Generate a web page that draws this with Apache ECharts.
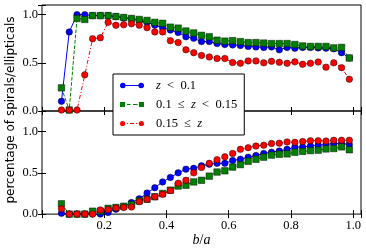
<!DOCTYPE html>
<html><head><meta charset="utf-8">
<script src="https://cdn.jsdelivr.net/npm/echarts@6/dist/echarts.min.js"></script>
<style>html,body{margin:0;padding:0;background:#fff}#c{width:366px;height:248px}</style>
</head><body><div id="c"></div>
<script>
const binCenters = [0.0625, 0.0875, 0.1125, 0.1375, 0.1625, 0.1875, 0.2125, 0.2375, 0.2625, 0.2875,
  0.3125, 0.3375, 0.3625, 0.3875, 0.4125, 0.4375, 0.4625, 0.4875, 0.5125, 0.5375,
  0.5625, 0.5875, 0.6125, 0.6375, 0.6625, 0.6875, 0.7125, 0.7375, 0.7625, 0.7875,
  0.8125, 0.8375, 0.8625, 0.8875, 0.9125, 0.9375, 0.9625, 0.9875];

const seriesNames = ['z < 0.1', '0.1 ≤ z < 0.15', '0.15 ≤ z'];

// top panel: spirals
const topLow = [0.10, 0.82, 1.00, 1.00, 0.99, 0.99, 0.99, 0.98, 0.965, 0.955,
  0.94, 0.92, 0.89, 0.865, 0.84, 0.815, 0.77, 0.755, 0.72, 0.72,
  0.70, 0.69, 0.685, 0.68, 0.67, 0.665, 0.66, 0.665, 0.635, 0.66,
  0.65, 0.66, 0.66, 0.655, 0.652, 0.645, 0.605, 0.55];
const topMid = [0.24, 0.01, 0.96, 0.95, 0.99, 0.99, 0.99, 0.98, 0.97, 0.96,
  0.95, 0.94, 0.92, 0.91, 0.87, 0.86, 0.83, 0.81, 0.785, 0.77,
  0.735, 0.725, 0.73, 0.72, 0.71, 0.71, 0.705, 0.70, 0.70, 0.70,
  0.69, 0.675, 0.67, 0.67, 0.67, 0.655, 0.66, 0.55];
const topHigh = [0.01, 0.01, 0.01, 0.375, 0.75, 0.76, 0.92, 0.89, 0.895, 0.905,
  0.89, 0.865, 0.82, 0.82, 0.73, 0.71, 0.635, 0.605, 0.577, 0.56,
  0.545, 0.545, 0.503, 0.495, 0.52, 0.52, 0.50, 0.515, 0.505, 0.495,
  0.51, 0.485, 0.495, 0.508, 0.455, 0.50, 0.45, 0.33];

// bottom panel: ellipticals
const botLow = [0.01, 0.0, 0.0, 0.0, 0.0, 0.0, 0.02, 0.06, 0.09, 0.14,
  0.185, 0.255, 0.32, 0.39, 0.445, 0.50, 0.545, 0.555, 0.585, 0.605,
  0.615, 0.615, 0.65, 0.665, 0.69, 0.71, 0.735, 0.75, 0.765, 0.785,
  0.81, 0.815, 0.825, 0.835, 0.845, 0.855, 0.855, 0.845];
const botMid = [0.125, 0.0, 0.0, 0.0, 0.035, 0.035, 0.07, 0.08, 0.095, 0.115,
  0.16, 0.18, 0.21, 0.25, 0.29, 0.34, 0.35, 0.39, 0.41, 0.46,
  0.51, 0.525, 0.57, 0.60, 0.64, 0.665, 0.69, 0.715, 0.725, 0.73,
  0.75, 0.76, 0.77, 0.775, 0.79, 0.795, 0.815, 0.78];
const botHigh = [0.065, 0.0, 0.0, 0.0, 0.0, 0.05, 0.055, 0.075, 0.08, 0.085,
  0.15, 0.18, 0.21, 0.24, 0.285, 0.375, 0.41, 0.50, 0.565, 0.615,
  0.66, 0.695, 0.735, 0.785, 0.805, 0.825, 0.835, 0.855, 0.86, 0.875,
  0.87, 0.88, 0.89, 0.89, 0.885, 0.895, 0.895, 0.895];

const xTickLabels = [0.2, 0.4, 0.6, 0.8, 1.0];
const yTickLabels = [0.0, 0.5, 1.0];
const yTitle = 'percentage of spirals/ellipticals';

const SERIF = 'Liberation Serif';
const colors = ['#0000ff', '#008000', '#ff0000'];
const symbols = ['circle', 'rect', 'circle'];
const dashes = ['solid', [3.7, 1.6], [4, 2, 1, 2]];
const legendIcons = [
  'path://M0,3 A2.8,2.8 0 1,0 5.6,3 A2.8,2.8 0 1,0 0,3 Z M18.4,3 A2.8,2.8 0 1,0 24,3 A2.8,2.8 0 1,0 18.4,3 Z M5.6,2.5 L18.4,2.5 L18.4,3.5 L5.6,3.5 Z',
  'path://M0,0.5 L5,0.5 L5,5.5 L0,5.5 Z M19,0.5 L24,0.5 L24,5.5 L19,5.5 Z M7,2.5 L10.5,2.5 L10.5,3.5 L7,3.5 Z M13,2.5 L17.5,2.5 L17.5,3.5 L13,3.5 Z',
  'path://M0,3 A2.6,2.6 0 1,0 5.2,3 A2.6,2.6 0 1,0 0,3 Z M18.8,3 A2.6,2.6 0 1,0 24,3 A2.6,2.6 0 1,0 18.8,3 Z M7,2.5 L8,2.5 L8,3.5 L7,3.5 Z M10,2.5 L14,2.5 L14,3.5 L10,3.5 Z M16,2.5 L17,2.5 L17,3.5 L16,3.5 Z'
];
const legendText = {
  'z < 0.1': '{i|z}\u2002<\u20020.1',
  '0.1 ≤ z < 0.15': '0.1\u2002≤\u2002{i|z}\u2002<\u20020.15',
  '0.15 ≤ z': '0.15\u2002≤\u2002{i|z}'
};

const pts = arr => binCenters.map((x, i) => [x, arr[i]]);

function xAx(gridIndex, position, labels) {
  return {
    type: 'value', gridIndex, position, min: 0, max: 1.025, interval: 0.2,
    axisLine: {show: false},
    axisTick: {show: true, inside: true, length: 4, lineStyle: {color: '#000', width: 1}},
    axisLabel: labels ? {
      show: true, margin: 5, color: '#000', fontFamily: SERIF, fontSize: 12.5,
      formatter: v => xTickLabels.some(t => Math.abs(t - v) < 1e-6) ? v.toFixed(1) : ''
    } : {show: false},
    splitLine: {show: false}
  };
}
function yAx(gridIndex, position, max, labels) {
  return {
    type: 'value', gridIndex, position, min: 0, max, interval: 0.5,
    axisLine: {show: false},
    axisTick: {show: true, inside: true, length: 4, lineStyle: {color: '#000', width: 1}},
    axisLabel: labels ? {
      show: true, margin: 4, color: '#000', fontFamily: SERIF, fontSize: 12.5,
      formatter: v => yTickLabels.some(t => Math.abs(t - v) < 1e-6) ? v.toFixed(1) : ''
    } : {show: false},
    splitLine: {show: false}
  };
}

const xAxes = [xAx(0, 'bottom', false), xAx(0, 'top', false), xAx(1, 'bottom', true), xAx(1, 'top', false)];
xAxes[2].name = '{i|b}/{i|a}';
xAxes[2].nameLocation = 'middle';
xAxes[2].nameGap = 16;
xAxes[2].nameTextStyle = {color: '#000', fontFamily: SERIF, fontSize: 14,
  rich: {i: {fontStyle: 'italic', fontFamily: SERIF, fontSize: 14, color: '#000'}}};

const yAxes = [yAx(0, 'left', 1.1, true), yAx(0, 'right', 1.1, false), yAx(1, 'left', 1.25, true), yAx(1, 'right', 1.25, false)];

const panelData = [[topLow, topMid, topHigh], [botLow, botMid, botHigh]];
const series = [];
panelData.forEach((group, p) => {
  group.forEach((arr, s) => {
    series.push({
      type: 'line', name: seriesNames[s], xAxisIndex: p * 2, yAxisIndex: p * 2,
      data: pts(arr), symbol: symbols[s], symbolSize: 6.5, showSymbol: true,
      clip: false,
      lineStyle: {color: colors[s], width: 1, type: dashes[s]},
      itemStyle: {color: colors[s], borderColor: 'rgba(0,0,0,0.75)', borderWidth: 0.6},
      emphasis: {disabled: true}
    });
  });
});

const chart = echarts.init(document.getElementById('c'), null, {renderer: 'canvas'});
chart.setOption({
  animation: false,
  backgroundColor: '#fff',
  grid: [
    {left: 42, right: 5, top: 5, height: 106, show: true, borderColor: '#000', borderWidth: 1, backgroundColor: 'transparent'},
    {left: 42, right: 5, top: 111, height: 104, show: true, borderColor: '#000', borderWidth: 1, backgroundColor: 'transparent'}
  ],
  xAxis: xAxes,
  yAxis: yAxes,
  legend: {
    orient: 'vertical', left: 113, top: 74,
    padding: [4, 7, 4, 7], itemGap: 4, itemWidth: 24, itemHeight: 6,
    symbolKeepAspect: true,
    backgroundColor: '#fff', borderColor: '#000', borderWidth: 1, borderRadius: 0,
    selectedMode: false,
    data: seriesNames.map((n, i) => ({name: n, icon: legendIcons[i], itemStyle: {color: colors[i], borderWidth: 0}})),
    itemStyle: {borderWidth: 0},
    formatter: n => legendText[n],
    textStyle: {color: '#000', fontFamily: SERIF, fontSize: 12.5, lineHeight: 15, padding: [0, 0, 0, 7],
      rich: {i: {fontStyle: 'italic', fontFamily: SERIF, fontSize: 12.5, lineHeight: 15, color: '#000'}}}
  },
  graphic: [{
    type: 'text', x: 11, y: 110, rotation: Math.PI / 2,
    style: {text: yTitle, fontFamily: 'DejaVu Sans', fontSize: 12, fill: '#000', textAlign: 'center', textVerticalAlign: 'middle'}
  }],
  series
});
</script></body></html>
